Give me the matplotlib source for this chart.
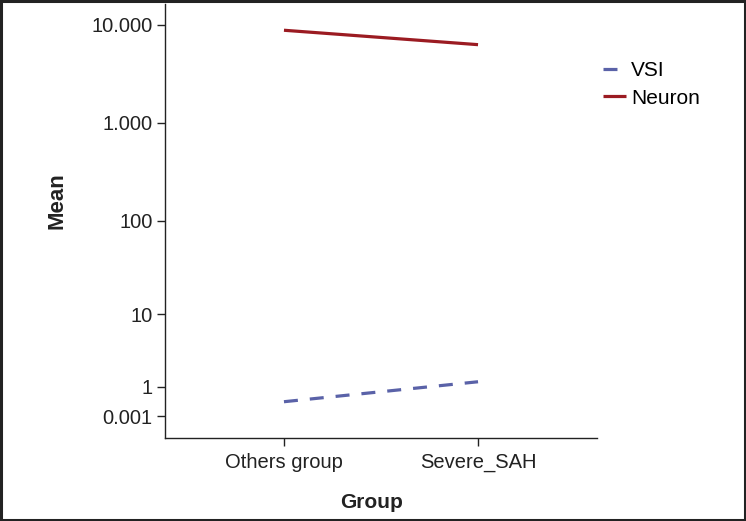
import numpy as np
import matplotlib
matplotlib.use("Agg")
import matplotlib.pyplot as plt
from matplotlib.patches import Rectangle

# ---- data ----
groups = ["Others group", "Severe_SAH"]
vsi = [0.030, 1.18]
neuron = [8840, 6300]
ytick_values = [10000, 1000, 100, 10, 1, 0.001]
ytick_labels = ["10.000", "1.000", "100", "10", "1", "0.001"]

plt.rcParams["font.family"] = ["Liberation Sans", "DejaVu Sans"]

# piecewise log scale (axis as drawn in the original)
_logs = np.array([-9.0, -3.0, 0.0, 1.0, 2.0, 3.0, 4.0, 6.0])
_pos = np.array([-36.0, 22.0, 51.0, 124.0, 217.3, 315.0, 413.0, 609.0])


def fwd(v):
    v = np.asarray(v, dtype=float)
    with np.errstate(divide="ignore", invalid="ignore"):
        lv = np.log10(np.clip(v, 1e-12, None))
    return np.interp(lv, _logs, _pos)


def inv(p):
    p = np.asarray(p, dtype=float)
    return 10 ** np.interp(p, _pos, _logs)


fig = plt.figure(figsize=(7.46, 5.21), dpi=100)
ax = fig.add_axes([165 / 746, 1 - 438 / 521, (597 - 165) / 746, (438 - 4) / 521])
ax.set_yscale("function", functions=(fwd, inv))

x = np.arange(len(groups))
ax.plot(x, vsi, color="#5A62A8", lw=2.3, linestyle=(0, (14 / 3.2, 12 / 3.2)),
        label="VSI", solid_capstyle="butt", dash_capstyle="butt")
ax.plot(x, neuron, color="#9B1B22", lw=2.3, label="Neuron", solid_capstyle="butt")

ax.set_ylim(float(inv(0.0)), float(inv(434.0)))
ax.set_xlim(-0.613, 1.613)

ax.set_yticks(ytick_values)
ax.set_yticklabels(ytick_labels)
ax.yaxis.set_minor_locator(matplotlib.ticker.NullLocator())
ax.set_xticks(x)
ax.set_xticklabels(groups)

for s in ["top", "right"]:
    ax.spines[s].set_visible(False)
for s in ["left", "bottom"]:
    ax.spines[s].set_linewidth(1.0)
    ax.spines[s].set_color("#222222")

ax.tick_params(axis="y", length=6, width=1.0, labelsize=14.5, colors="#222222", pad=3)
ax.tick_params(axis="x", length=6, width=1.0, labelsize=14.5, colors="#222222", pad=5)

fig.text(372 / 746, 1 - 503 / 521, "Group", ha="center", va="center",
         fontsize=15, fontweight="bold", color="#222222")
fig.text(57 / 746, 1 - 201 / 521, "Mean", ha="center", va="center", rotation=90,
         fontsize=16, fontweight="bold", color="#222222")

fig.legend(loc="upper left", bbox_to_anchor=(603 / 746, 1 - 61 / 521),
           frameon=False, fontsize=15, handlelength=1.1, handletextpad=0.25,
           labelspacing=0.42, borderpad=0, borderaxespad=0)

fig.add_artist(Rectangle((0.0015, 0.002), 0.997, 0.996, transform=fig.transFigure,
                         fill=False, edgecolor="#222222", lw=2.2))

fig.savefig("out.png", dpi=100)
